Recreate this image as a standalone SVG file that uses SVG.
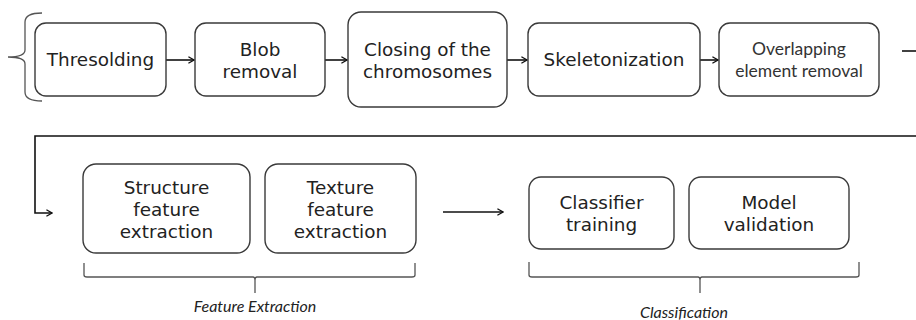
<svg xmlns="http://www.w3.org/2000/svg" width="916" height="320" viewBox="0 0 916 320">
  <defs>
    <marker id="arr" viewBox="0 0 10 10" refX="9" refY="5" markerWidth="8" markerHeight="8" markerUnits="userSpaceOnUse" orient="auto">
      <polyline points="2,1 9,5 2,9" fill="none" stroke="#111" stroke-width="1.6"/>
    </marker>
    <style>
      .box { fill: #fff; stroke: #3a3a3a; stroke-width: 1.4; }
      .t { font-family: "DejaVu Sans", Verdana, sans-serif; font-size: 18.4px; fill: #222; text-anchor: middle; }
      .ts { font-family: Lato, "Open Sans", sans-serif; font-size: 17.5px; fill: #333; text-anchor: middle; }
      .lab { font-family: Lato, "Open Sans", sans-serif; font-style: italic; font-size: 16px; fill: #222; text-anchor: middle; }
      .ln { fill: none; stroke: #111; stroke-width: 1.6; }
      .br { fill: none; stroke: #555; stroke-width: 1.3; }
    </style>
  </defs>
  <rect width="916" height="320" fill="#fff"/>

  <!-- opening brace on the left of the first row -->
  <path class="br" d="M42,13 Q25,13 25,22 L25,50 Q25,57 8,57 Q25,57 25,64 L25,92 Q25,101 42,101"/>

  <g id="connectors">
    <line class="ln" x1="166" y1="60" x2="194" y2="60" marker-end="url(#arr)"/>
    <line class="ln" x1="325" y1="60" x2="347" y2="60" marker-end="url(#arr)"/>
    <line class="ln" x1="507" y1="60" x2="527" y2="60" marker-end="url(#arr)"/>
    <line class="ln" x1="700" y1="60" x2="718" y2="60" marker-end="url(#arr)"/>
    <line class="ln" x1="902" y1="51" x2="916" y2="51"/>
    <polyline class="ln" points="916,136 35,136 35,213 52,213" marker-end="url(#arr)"/>
    <line class="ln" x1="443" y1="212" x2="503" y2="212" marker-end="url(#arr)"/>
  </g>

  <g id="thresholding">
    <rect class="box" x="35" y="23" width="131" height="73" rx="11"/>
    <text class="t" x="100.5" y="66">Thresolding</text>
  </g>
  <g id="blob-removal">
    <rect class="box" x="195" y="23" width="130" height="73" rx="11"/>
    <text class="t" x="260" y="56">Blob</text>
    <text class="t" x="260" y="78">removal</text>
  </g>
  <g id="closing">
    <rect class="box" x="348" y="12" width="159" height="95" rx="13"/>
    <text class="t" x="427.5" y="56">Closing of the</text>
    <text class="t" x="427.5" y="78">chromosomes</text>
  </g>
  <g id="skeletonization">
    <rect class="box" x="528" y="23" width="172" height="73" rx="11"/>
    <text class="t" x="614" y="66">Skeletonization</text>
  </g>
  <g id="overlap-removal">
    <rect class="box" x="719" y="23" width="160" height="73" rx="11"/>
    <text class="ts" x="799" y="55">Overlapping</text>
    <text class="ts" x="799" y="77">element removal</text>
  </g>

  <g id="structure-features">
    <rect class="box" x="83" y="164" width="167" height="89" rx="13"/>
    <text class="t" x="166.5" y="194">Structure</text>
    <text class="t" x="166.5" y="216">feature</text>
    <text class="t" x="166.5" y="238">extraction</text>
  </g>
  <g id="texture-features">
    <rect class="box" x="265" y="164" width="151" height="89" rx="13"/>
    <text class="t" x="340.5" y="194">Texture</text>
    <text class="t" x="340.5" y="216">feature</text>
    <text class="t" x="340.5" y="238">extraction</text>
  </g>
  <g id="classifier-training">
    <rect class="box" x="529" y="177" width="145" height="72" rx="12"/>
    <text class="t" x="601.5" y="209">Classifier</text>
    <text class="t" x="601.5" y="231">training</text>
  </g>
  <g id="model-validation">
    <rect class="box" x="689" y="177" width="160" height="72" rx="12"/>
    <text class="t" x="769" y="209">Model</text>
    <text class="t" x="769" y="231">validation</text>
  </g>

  <g id="feature-extraction-group">
    <path class="br" d="M84,263 L84,275 Q84,277 87,277 L253,277 Q255,277 255,280 L255,293 M255,280 Q255,277 257,277 L412,277 Q415,277 415,275 L415,263"/>
    <text class="lab" x="255" y="312">Feature Extraction</text>
  </g>
  <g id="classification-group">
    <path class="br" d="M529,262 L529,275 Q529,277 532,277 L698,277 Q700,277 700,280 L700,293 M700,280 Q700,277 702,277 L856,277 Q859,277 859,275 L859,262"/>
    <text class="lab" x="684" y="318">Classification</text>
  </g>
</svg>
